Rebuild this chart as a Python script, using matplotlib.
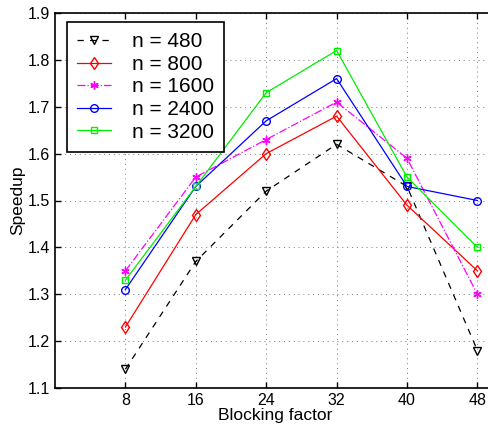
import matplotlib
matplotlib.use("Agg")
import matplotlib.pyplot as plt

plt.rcParams['font.family'] = ['Liberation Sans', 'DejaVu Sans']

blocking = [8, 16, 24, 32, 40, 48]
labels = ["n = 480", "n = 800", "n = 1600", "n = 2400", "n = 3200"]
s480 = [1.14, 1.37, 1.52, 1.62, 1.53, 1.18]
s800 = [1.23, 1.47, 1.60, 1.68, 1.49, 1.35]
s1600 = [1.35, 1.55, 1.63, 1.71, 1.59, 1.30]
s2400 = [1.31, 1.53, 1.67, 1.76, 1.53, 1.50]
s3200 = [1.33, 1.53, 1.73, 1.82, 1.55, 1.40]
yticks = [1.1, 1.2, 1.3, 1.4, 1.5, 1.6, 1.7, 1.8, 1.9]

series = [s480, s800, s1600, s2400, s3200]
styles = [
    dict(color='black', linestyle=(0, (5, 5)), marker='v', markersize=5.5),
    dict(color='red', linestyle='-', marker='d', markersize=6),
    dict(color='magenta', linestyle='-.', marker=(6, 2, 0), markersize=6),
    dict(color='blue', linestyle='-', marker='o', markersize=5.5),
    dict(color='#00ee00', linestyle='-', marker='s', markersize=5),
]

fig = plt.figure(figsize=(4.88, 4.34), dpi=100)
ax = fig.add_axes([55/488, 1-388/434, (495-55)/488, (388-13)/434])

for vals, lab, st in zip(series, labels, styles):
    ax.plot(blocking, vals, label=lab, linewidth=0.9,
            markerfacecolor='none', markeredgewidth=1.0, **st)

ax.set_xlim(0, 50)
ax.set_ylim(1.1, 1.9)
ax.set_xticks(blocking)
ax.set_yticks(yticks)
ax.set_yticklabels([f"{v:.1f}" for v in yticks])
ax.grid(True, linestyle=(0, (1, 4)), color='#777777', linewidth=0.7)
ax.tick_params(direction='in', top=True, right=True, labelsize=11.5, length=4, width=1)
for sp in ax.spines.values():
    sp.set_linewidth(1.2)
ax.set_xlabel("Blocking factor", fontsize=12.5, labelpad=0)
ax.set_ylabel("Speedup", fontsize=12.5, labelpad=2)

leg = ax.legend(loc='upper left', bbox_to_anchor=(12/440, 1 - 9/375), fontsize=15,
                frameon=True, fancybox=False, edgecolor='black', framealpha=1,
                handlelength=1.6, handletextpad=1.0, labelspacing=0.17,
                borderpad=0.5, borderaxespad=0)
leg.get_frame().set_linewidth(1.2)

fig.savefig("out.png", dpi=100)
